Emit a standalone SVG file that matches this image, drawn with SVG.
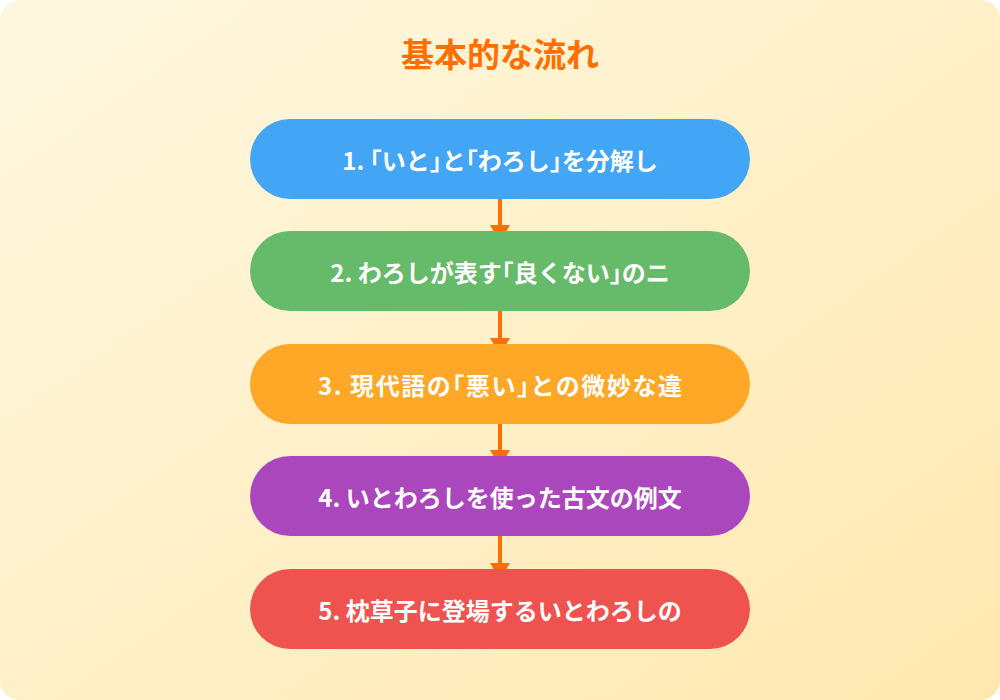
<svg xmlns="http://www.w3.org/2000/svg" width="1000" height="700" viewBox="0 0 1000 700">
<defs>
<linearGradient id="bg" x1="0" y1="0" x2="1" y2="1">
<stop offset="0" stop-color="#FFF8E1"/>
<stop offset="1" stop-color="#FFE8B0"/>
</linearGradient>
<marker id="arr" markerWidth="17" markerHeight="20" refX="17" refY="10" orient="auto" markerUnits="userSpaceOnUse">
<path d="M0,0 L17,10 L0,20 Z" fill="#FF6F00"/>
</marker>
<style>
.title{font-family:"Noto Sans CJK JP","Noto Sans",sans-serif;font-size:33px;font-weight:bold;fill:#FF6F00;text-anchor:middle}
.lbl{font-family:"Noto Sans CJK JP","Noto Sans",sans-serif;font-size:24px;font-weight:bold;fill:#FFFFFF;text-anchor:middle;dominant-baseline:central}
.h{font-feature-settings:"halt"}
.conn{stroke:#FF6F00;stroke-width:4;fill:none;marker-end:url(#arr)}
</style>
</defs>
<rect x="0" y="0" width="1000" height="700" rx="20" fill="url(#bg)"/>
<text class="title" x="500" y="67">基本的な流れ</text>
<g id="connectors">
<line class="conn" x1="500" y1="199" x2="500" y2="242"/>
<line class="conn" x1="500" y1="311" x2="500" y2="355"/>
<line class="conn" x1="500" y1="424" x2="500" y2="467"/>
<line class="conn" x1="500" y1="536" x2="500" y2="580"/>
</g>
<g id="node1">
<rect x="250" y="119" width="500" height="80" rx="40" fill="#42A5F5"/>
<text class="lbl" x="500" y="159">1. <tspan class="h">「</tspan>いと<tspan class="h">」</tspan>と<tspan class="h">「</tspan>わろし<tspan class="h">」</tspan>を分解し</text>
</g>
<g id="node2">
<rect x="250" y="231" width="500" height="80" rx="40" fill="#66BB6A"/>
<text class="lbl" x="500" y="271">2. わろしが表す<tspan class="h">「</tspan>良くない<tspan class="h">」</tspan>のニ</text>
</g>
<g id="node3">
<rect x="250" y="344" width="500" height="80" rx="40" fill="#FFA726"/>
<text class="lbl" x="500" y="384" textLength="364" lengthAdjust="spacing">3. 現代語の<tspan class="h">「</tspan>悪い<tspan class="h">」</tspan>との微妙な違</text>
</g>
<g id="node4">
<rect x="250" y="456" width="500" height="80" rx="40" fill="#AB47BC"/>
<text class="lbl" x="500" y="496">4. いとわろしを使った古文の例文</text>
</g>
<g id="node5">
<rect x="250" y="569" width="500" height="80" rx="40" fill="#EF5350"/>
<text class="lbl" x="500" y="609">5. 枕草子に登場するいとわろしの</text>
</g>
</svg>
